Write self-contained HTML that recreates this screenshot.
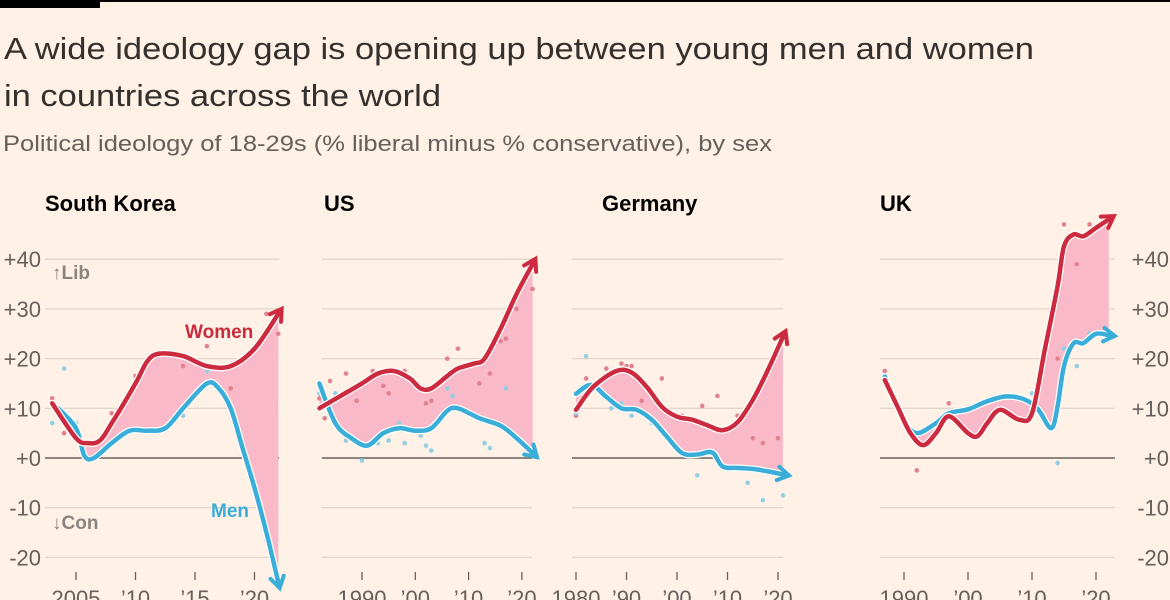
<!DOCTYPE html>
<html><head><meta charset="utf-8"><style>
html,body{margin:0;padding:0;background:#fff1e5;}
svg{display:block;font-family:"Liberation Sans",sans-serif;}
</style></head><body>
<svg id="chart" width="1170" height="600" viewBox="0 0 1170 600">
<rect x="0" y="0" width="1170" height="600" fill="#fff1e5"/>
<rect x="0" y="0" width="1170" height="2" fill="#000"/>
<rect x="0" y="0" width="100" height="8" fill="#000"/>
<text x="4" y="59" font-size="31" fill="#33302e" textLength="1030" lengthAdjust="spacingAndGlyphs">A wide ideology gap is opening up between young men and women</text>
<text x="4" y="106" font-size="31" fill="#33302e" textLength="437" lengthAdjust="spacingAndGlyphs">in countries across the world</text>
<text x="3" y="151" font-size="22" fill="#66605c" textLength="769" lengthAdjust="spacingAndGlyphs">Political ideology of 18-29s (% liberal minus % conservative), by sex</text>
<g id="plots"></g>
</svg>
<script>
const yTicks=[40,30,20,10,0,-10,-20];
const yTickLabels=["+40","+30","+20","+10","+0","-10","-20"];
const panelNames=["South Korea","US","Germany","UK"];
const skWomenYears=[2003,2005,2006,2007,2008,2010,2011,2012,2014,2016,2018,2020,2022];
const skWomenVals=[11,4,3,3.5,7,15,19.5,21,20.5,18.5,18.5,22,29];
const skMenYears=[2003.5,2005,2005.7,2006.5,2008,2009.5,2011,2012.5,2014,2016,2017,2018,2019,2020,2021,2022];
const skMenVals=[10,6,0.5,0,3,5.5,5.5,6,10,15,14,10,2,-6,-15,-25];
const usWomenYears=[1982,1986,1990,1993,1996,1999,2001,2003,2006,2008,2011,2013,2016,2019,2022];
const usWomenVals=[10,12.5,15,17,17.5,16,14,14,16.5,18,19,20,26,33,39];
const usMenYears=[1982,1985,1988,1991,1994,1997,2000,2003,2006,2008,2012,2016,2019,2022];
const usMenVals=[15,7,4,2.5,5,6,5.5,6,9.5,10,8,6.5,4,1];
const deWomenYears=[1980,1983.4,1988,1991,1994,1997,2000,2003,2006,2009,2012,2015,2018,2021];
const deWomenVals=[9.7,14.3,17.5,17.2,14.3,10.3,8.3,7.7,6.6,5.6,7.2,11.7,17.7,24.4];
const deMenYears=[1980,1983,1986,1989,1992,1995,1998,2001,2004,2007,2009,2012,2015,2018,2021];
const deMenVals=[12.9,14.7,12.3,10,9.7,7.7,4.3,1,0.7,1.1,-1.7,-2,-2.2,-2.7,-3.3];
const ukWomenYears=[1987,1989,1991,1993,1995,1997,2000,2001.5,2003,2005,2008,2010,2012,2014,2015,2016.5,2018,2020,2022];
const ukWomenVals=[15.7,10.3,5,2.6,5,8.4,5,4.4,7,9.7,7.7,9,21.8,34.6,42.6,45,44.6,46.3,48];
const ukMenYears=[1987,1990,1992,1995,1997,2000,2003,2006,2009,2011,2013,2014,2015,2016.5,2018,2020,2022];
const ukMenVals=[16.4,7.7,5,7,9,9.8,11.4,12.4,11.7,9.7,6,10.4,18.5,23.1,23.1,25,24.7];
const skDotsW=[[2003,12],[2004,5],[2008,9],[2010,16.5],[2014,18.5],[2016,22.5],[2018,14],[2021,29],[2022,25]];
const skDotsM=[[2003,7],[2004,18],[2005,7],[2007,0.5],[2014,8.5],[2016,17.5],[2021,-16.5]];
const usDotsW=[[1982,12],[1983,8],[1984,15.5],[1987,17],[1989,11.5],[1991,16],[1992,17.5],[1994,14.5],[1995,13],[1998,17.5],[2002,11],[2003,11.5],[2006,20],[2008,22],[2012,15],[2014,17],[2016,23.5],[2017,24],[2019,30],[2021,37],[2022,34]];
const usDotsM=[[1982,13],[1985,13],[1987,3.5],[1990,-0.5],[1993,3],[1995,3.5],[1997,7],[1998,3],[2001,4.5],[2002,2.5],[2003,1.5],[2006,14],[2007,12.5],[2013,3],[2014,2],[2017,14],[2020,3],[2021,1.5]];
const deDotsW=[[1980,8.5],[1982,16],[1986,18],[1989,19],[1990,18.5],[1991,18.5],[1993,11.5],[1997,16],[1999,9],[2001,8.5],[2005,10.5],[2008,12.5],[2012,8.5],[2015,4],[2017,3],[2020,4]];
const deDotsM=[[1980,9],[1982,20.5],[1987,10],[1989,11],[1991,8.5],[1995,7],[2004,-3.5],[2008,-0.5],[2014,-5],[2017,-8.5],[2021,-7.5]];
const ukDotsW=[[1987,17.5],[1992,-2.5],[1997,11],[2014,20],[2015,47],[2017,39],[2019,47]];
const ukDotsM=[[1987,16.5],[2010,13],[2014,-1],[2015,22],[2017,18.5],[2019,25]];
const tickYears=[[2005,2010,2015,2020],[1990,2000,2010,2020],[1980,1990,2000,2010,2020],[1990,2000,2010,2020]];
const tickLabels=[["2005","’10","’15","’20"],["1990","’00","’10","’20"],["1980","’90","’00","’10","’20"],["1990","’00","’10","’20"]];

const panels=[
 {x0:45,x1:279,y0:2005,yx:76,ppy:11.9,w:[skWomenYears,skWomenVals],m:[skMenYears,skMenVals],dw:skDotsW,dm:skDotsM,tx:45},
 {x0:322,x1:532,y0:1990,yx:362,ppy:5.33,w:[usWomenYears,usWomenVals],m:[usMenYears,usMenVals],dw:usDotsW,dm:usDotsM,tx:324},
 {x0:572,x1:783,y0:1980,yx:576,ppy:5.05,w:[deWomenYears,deWomenVals],m:[deMenYears,deMenVals],dw:deDotsW,dm:deDotsM,tx:602},
 {x0:880,x1:1115,y0:1990,yx:904,ppy:6.4,w:[ukWomenYears,ukWomenVals],m:[ukMenYears,ukMenVals],dw:ukDotsW,dm:ukDotsM,tx:880}
];
const NS="http://www.w3.org/2000/svg";
const root=document.getElementById('plots');
function yS(v){return 458-4.97*v;}
function mk(tag,attrs,parent){const e=document.createElementNS(NS,tag);for(const k in attrs)e.setAttribute(k,attrs[k]);(parent||root).appendChild(e);return e;}
function smooth(pts){let d="M"+pts[0][0].toFixed(1)+","+pts[0][1].toFixed(1);
 for(let i=0;i<pts.length-1;i++){const p0=pts[i-1]||pts[i],p1=pts[i],p2=pts[i+1],p3=pts[i+2]||p2;
  const c1=[p1[0]+(p2[0]-p0[0])/6,p1[1]+(p2[1]-p0[1])/6],c2=[p2[0]-(p3[0]-p1[0])/6,p2[1]-(p3[1]-p1[1])/6];
  d+="C"+c1[0].toFixed(1)+","+c1[1].toFixed(1)+" "+c2[0].toFixed(1)+","+c2[1].toFixed(1)+" "+p2[0].toFixed(1)+","+p2[1].toFixed(1);}
 return d;}
function revSmooth(pts){return smooth(pts.slice().reverse()).replace(/^M/,"L");}
panels.forEach((p,pi)=>{
 const xS=yr=>p.yx+(yr-p.y0)*p.ppy;
 const g=mk('g',{});
 
 
 const t=mk('text',{x:p.tx,y:211,'font-size':22,'font-weight':'bold',fill:'#000'},g);
 t.textContent=panelNames[pi];
 
 
 yTicks.forEach((v,i)=>{const l=mk('line',{x1:p.x0,x2:p.x1,y1:yS(v),y2:yS(v),stroke:v===0?'#66605c':'#e0d6cc','stroke-width':v===0?1.6:1.3},g);
  
  });
 tickYears[pi].forEach((yr,i)=>{const x=xS(yr);
  const l=mk('line',{x1:x,x2:x,y1:572,y2:580,stroke:'#66605c','stroke-width':1.3},g);
  
  
  const tl=mk('text',{x:x,y:606,'font-size':22,fill:'#66605c','text-anchor':'middle'},g);
  tl.textContent=tickLabels[pi][i];
  
  });
 const wp=p.w[0].map((yr,i)=>[xS(yr),yS(p.w[1][i])]);
 const mp=p.m[0].map((yr,i)=>[xS(yr),yS(p.m[1][i])]);
 const area=mk('path',{d:smooth(wp)+revSmooth(mp)+"Z",fill:'#f9b9c8'},g);
 
 
 p.dw.forEach(d=>{const c=mk('circle',{cx:xS(d[0]),cy:yS(d[1]),r:2.3,fill:'#e08290'},g);
  
  });
 p.dm.forEach(d=>{const c=mk('circle',{cx:xS(d[0]),cy:yS(d[1]),r:2.3,fill:'#93cfe2'},g);
  
  });
 [[mp,'#3aaed8','men'],[wp,'#cc2b3f','women']].forEach(([pts,col,nm])=>{
  const d=smooth(pts);
  const h=mk('path',{d:d,fill:'none',stroke:'#fff','stroke-width':7,'stroke-linecap':'round'},g);
  
  
  const l=mk('path',{d:d,fill:'none',stroke:col,'stroke-width':4.5,'stroke-linecap':'round'},g);
  
  
  const a=pts[pts.length-2],b=pts[pts.length-1];
  const ang=Math.atan2(b[1]-a[1],b[0]-a[0]);
  const tip=[b[0]+Math.cos(ang)*6,b[1]+Math.sin(ang)*6];
  const L=13,W=0.55;
  const p1=[tip[0]-L*Math.cos(ang-W),tip[1]-L*Math.sin(ang-W)];
  const p2=[tip[0]-L*Math.cos(ang+W),tip[1]-L*Math.sin(ang+W)];
  const ah=mk('path',{d:`M${p1[0]},${p1[1]}L${tip[0]},${tip[1]}L${p2[0]},${p2[1]}`,fill:'none',stroke:col,'stroke-width':4,'stroke-linejoin':'miter','stroke-linecap':'round'},g);
  
  
 });
});
const axisG=mk('g',{});


yTicks.forEach((v,i)=>{
 const a=mk('text',{x:41,y:yS(v)+8,'font-size':22,fill:'#66605c','text-anchor':'end'},axisG);
 a.textContent=yTickLabels[i];
 
 
 const b=mk('text',{x:1169,y:yS(v)+8,'font-size':22,fill:'#66605c','text-anchor':'end'},axisG);
 b.textContent=yTickLabels[i];
 
 
});
const ann=[["↑Lib",52,279,'#8a8480','lib-annotation'],["↓Con",52,529,'#8a8480','con-annotation'],["Women",185,338,'#cc2b3f','women-label'],["Men",211,517,'#3aaed8','men-label']];
ann.forEach(a=>{const t=mk('text',{x:a[1],y:a[2],'font-size':19,'font-weight':'bold',fill:a[3]});
 t.textContent=a[0];
 
 });
</script>
</body></html>
